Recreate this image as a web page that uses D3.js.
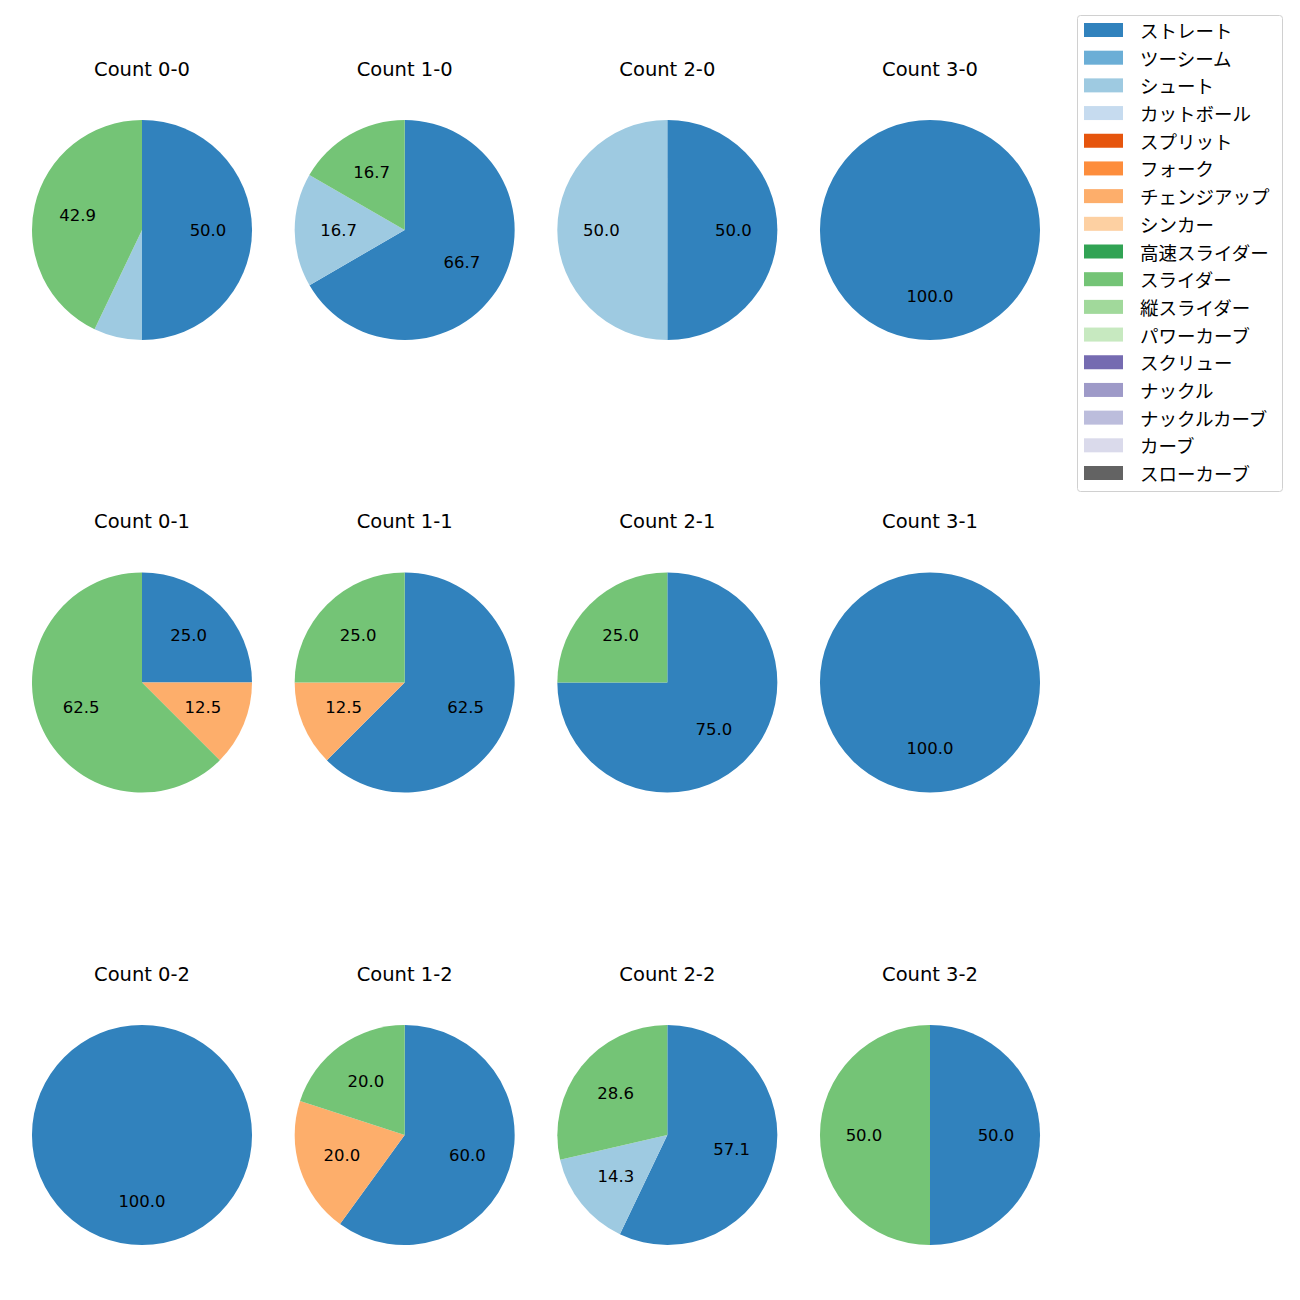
<!DOCTYPE html>
<html><head><meta charset="utf-8">
<script src="https://cdn.jsdelivr.net/npm/d3@7"></script>
<style>body{margin:0;background:#fff}svg{display:block}text{font-family:"DejaVu Sans","Noto Sans CJK JP",sans-serif}</style>
</head><body>
<script>
const pitchTypes = ["ストレート","ツーシーム","シュート","カットボール","スプリット","フォーク","チェンジアップ","シンカー","高速スライダー","スライダー","縦スライダー","パワーカーブ","スクリュー","ナックル","ナックルカーブ","カーブ","スローカーブ"];
const pitchColors = ["#3182bd","#6baed6","#9ecae1","#c6dbef","#e6550d","#fd8d3c","#fdae6b","#fdd0a2","#31a354","#74c476","#a1d99b","#c7e9c0","#756bb1","#9e9ac8","#bcbddc","#dadaeb","#636363"];
const countTitles = ["Count 0-0","Count 1-0","Count 2-0","Count 3-0","Count 0-1","Count 1-1","Count 2-1","Count 3-1","Count 0-2","Count 1-2","Count 2-2","Count 3-2"];
// percentages per count for the pitch types that appear
const straightPct = [50.0, 66.7, 50.0, 100, 25.0, 62.5, 75.0, 100, 100, 60.0, 57.1, 50.0];
const shootPct    = [7.1, 16.7, 50.0, 0, 0, 0, 0, 0, 0, 0, 14.3, 0];
const changeupPct = [0, 0, 0, 0, 12.5, 12.5, 0, 0, 0, 20.0, 0, 0];
const sliderPct   = [42.9, 16.7, 0, 0, 62.5, 25.0, 25.0, 0, 0, 20.0, 28.6, 50.0];

const W = 1300, H = 1300;
const svg = d3.select("body").append("svg").attr("width", W).attr("height", H);

const colX = d3.scalePoint().domain([0,1,2,3]).range([142, 930]);
const rowY = d3.scalePoint().domain([0,1,2]).range([230, 1135]);
const R = 110;
const color = d3.scaleOrdinal().domain(pitchTypes).range(pitchColors);

const pie = d3.pie().sort(null).value(d => d.v).startAngle(0).endAngle(2*Math.PI);
const arc = d3.arc().innerRadius(0).outerRadius(R);

countTitles.forEach((title, i) => {
  const col = i % 4, row = Math.floor(i / 4);
  const cx = colX(col), cy = rowY(row);
  const data = pitchTypes.map((p, k) => {
    let v = 0;
    if (k === 0) v = straightPct[i];
    else if (k === 2) v = shootPct[i];
    else if (k === 6) v = changeupPct[i];
    else if (k === 9) v = sliderPct[i];
    return {p, v};
  }).filter(d => d.v > 0);
  const g = svg.append("g").attr("transform", `translate(${cx},${cy})`);
  const arcs = pie(data);
  g.selectAll("path").data(arcs).join("path")
    .attr("d", arc).attr("fill", d => color(d.data.p));
  g.selectAll("text.lbl").data(arcs.filter(d => d.data.v >= 10)).join("text")
    .attr("class","lbl")
    .attr("x", d => 0.6*R*Math.sin((d.startAngle+d.endAngle)/2))
    .attr("y", d => -0.6*R*Math.cos((d.startAngle+d.endAngle)/2))
    .attr("text-anchor","middle").attr("dominant-baseline","central")
    .attr("font-size", 16.5).attr("fill","#000")
    .text(d => d.data.v.toFixed(1));
  svg.append("text").attr("x", cx).attr("y", cy - 161)
    .attr("text-anchor","middle").attr("dominant-baseline","central")
    .attr("font-size", 19.5).attr("fill","#000").text(title);
});

// legend
const lg = svg.append("g");
lg.append("rect").attr("x", 1077.5).attr("y", 15.5).attr("width", 205).attr("height", 476)
  .attr("rx", 3).attr("fill", "#fff").attr("stroke", "#d0d0d0");
const ly = d3.scaleLinear().domain([0, pitchTypes.length-1]).range([30, 473]);
pitchTypes.forEach((p, k) => {
  lg.append("rect").attr("x", 1084).attr("y", ly(k) - 7).attr("width", 39).attr("height", 14).attr("fill", color(p));
  lg.append("text").attr("x", 1140).attr("y", ly(k)).attr("dominant-baseline","central")
    .style("font-family", '"Noto Sans CJK JP",sans-serif')
    .attr("font-size", 18.5).attr("fill","#000").text(p);
});
</script>
</body></html>
